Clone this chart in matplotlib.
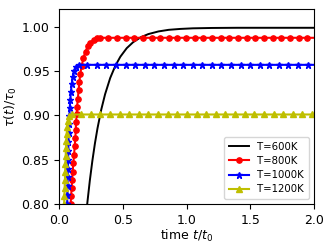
import matplotlib
matplotlib.use("Agg")
import matplotlib.pyplot as plt

# T = 600K (no markers)
t_600 = [0.20, 0.22, 0.24, 0.26, 0.28, 0.30, 0.33, 0.36, 0.40, 0.44, 0.48, 0.53,
         0.58, 0.64, 0.70, 0.78, 0.86, 0.95, 1.05, 1.20, 1.40, 1.70, 2.00]
v_600 = [0.7713, 0.8008, 0.8265, 0.8488, 0.8683, 0.8852, 0.9066, 0.9239, 0.9421,
         0.9558, 0.9662, 0.9758, 0.9825, 0.9881, 0.9917, 0.9947, 0.9965, 0.9975,
         0.9982, 0.9986, 0.9988, 0.9988, 0.9988]

# T = 800K
t_800 = [0.085, 0.089, 0.093, 0.097, 0.101, 0.105, 0.110, 0.116, 0.121, 0.126, 0.129,
         0.132, 0.136, 0.140, 0.146, 0.152, 0.158, 0.165, 0.176, 0.190, 0.206, 0.224,
         0.245, 0.270, 0.295,
         0.317, 0.385, 0.453, 0.521, 0.589, 0.657, 0.725, 0.793, 0.861, 0.929, 0.997,
         1.065, 1.133, 1.201, 1.269, 1.337, 1.405, 1.473, 1.541, 1.609, 1.677, 1.745,
         1.813, 1.881, 1.949, 2.000]
v_800 = [0.790, 0.800, 0.809, 0.818, 0.827, 0.836, 0.846, 0.855, 0.865, 0.874, 0.883,
         0.893, 0.901, 0.910, 0.919, 0.929, 0.938, 0.947, 0.956, 0.965, 0.972, 0.978,
         0.982, 0.985, 0.9868,
         0.9875, 0.9875, 0.9875, 0.9875, 0.9875, 0.9875, 0.9875, 0.9875, 0.9875,
         0.9875, 0.9875, 0.9875, 0.9875, 0.9875, 0.9875, 0.9875, 0.9875, 0.9875,
         0.9875, 0.9875, 0.9875, 0.9875, 0.9875, 0.9875, 0.9875, 0.9875]

# T = 1000K
t_1000 = [0.060, 0.062, 0.063, 0.065, 0.066, 0.068, 0.069, 0.071, 0.072, 0.074, 0.076,
          0.079, 0.082, 0.086, 0.091, 0.097, 0.106, 0.118, 0.135, 0.155,
          0.220, 0.295, 0.371, 0.446, 0.521, 0.597, 0.672, 0.747, 0.822, 0.898, 0.973,
          1.048, 1.124, 1.199, 1.274, 1.350, 1.425, 1.500, 1.575, 1.651, 1.726, 1.801,
          1.877, 1.952, 2.000]
v_1000 = [0.790, 0.800, 0.810, 0.820, 0.830, 0.840, 0.850, 0.860, 0.870, 0.880, 0.890,
          0.899, 0.908, 0.917, 0.926, 0.935, 0.943, 0.950, 0.955, 0.957,
          0.957, 0.957, 0.957, 0.957, 0.957, 0.957, 0.957, 0.957, 0.957, 0.957, 0.957,
          0.957, 0.957, 0.957, 0.957, 0.957, 0.957, 0.957, 0.957, 0.957, 0.957, 0.957,
          0.957, 0.957, 0.957]

# T = 1200K
t_1200 = [0.036, 0.038, 0.040, 0.042, 0.044, 0.046, 0.048, 0.050, 0.052, 0.055, 0.058,
          0.062, 0.068, 0.078, 0.096,
          0.172, 0.248, 0.323, 0.399, 0.475, 0.550, 0.626, 0.701, 0.777, 0.853, 0.928,
          1.004, 1.080, 1.155, 1.231, 1.306, 1.382, 1.458, 1.533, 1.609, 1.684, 1.760,
          1.836, 1.911, 1.987, 2.000]
v_1200 = [0.790, 0.800, 0.809, 0.818, 0.827, 0.836, 0.845, 0.854, 0.863, 0.871, 0.879,
          0.887, 0.894, 0.899, 0.901,
          0.901, 0.901, 0.901, 0.901, 0.901, 0.901, 0.901, 0.901, 0.901, 0.901, 0.901,
          0.901, 0.901, 0.901, 0.901, 0.901, 0.901, 0.901, 0.901, 0.901, 0.901, 0.901,
          0.901, 0.901, 0.901, 0.901]

labels = ["T=600K", "T=800K", "T=1000K", "T=1200K"]
x_ticks = [0.0, 0.5, 1.0, 1.5, 2.0]
y_ticks = [0.80, 0.85, 0.90, 0.95, 1.00]

fig = plt.figure(figsize=(3.32, 2.47), dpi=100)
ax = fig.add_axes([0.1786, 0.174, 0.7664, 0.7896])

ax.plot(t_600, v_600, color="k", lw=1.4, label=labels[0])
ax.plot(t_800, v_800, color="r", lw=1.5, marker="o", ms=3.8,
        markevery=slice(0, -1), label=labels[1])
ax.plot(t_1000, v_1000, color="b", lw=1.5, marker="*", ms=4.5,
        markevery=slice(0, -1), label=labels[2])
ax.plot(t_1200, v_1200, color="y", lw=1.5, marker="^", ms=3.8,
        markevery=slice(0, -1), label=labels[3])

ax.set_xlim(0, 2.0)
ax.set_ylim(0.80, 1.02)
ax.set_xticks(x_ticks)
ax.set_yticks(y_ticks)
ax.set_xticklabels([f"{v:.1f}" for v in x_ticks])
ax.set_yticklabels([f"{v:.2f}" for v in y_ticks])
ax.tick_params(labelsize=9, length=3.5, width=0.8)
ax.set_xlabel(r"time $t/t_0$", fontsize=9, labelpad=1)
ax.set_ylabel(r"$\tau(t)/\tau_0$", fontsize=9, labelpad=2)
ax.legend(loc="lower right", fontsize=7.3, handlelength=2.0, borderpad=0.45,
          labelspacing=0.42)

fig.savefig("out.png", dpi=100)
